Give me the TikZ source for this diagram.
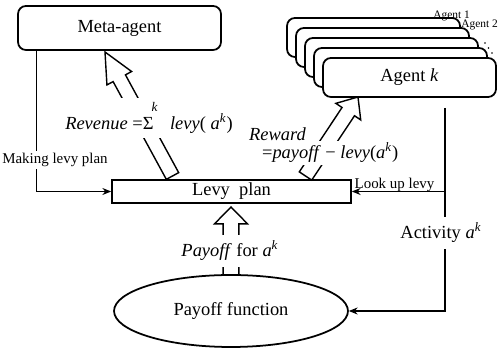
\documentclass[tikz,border=0pt]{standalone}
\usepackage{fontspec}
\setmainfont{Liberation Serif}
\usetikzlibrary{calc,arrows.meta,shapes.geometric}
\newcommand{\hollowarr}[5]{%
  \coordinate (hb) at ($(#2)!#5!(#1)$);
  \draw[hollowline] ($(#1)!#3!90:(#2)$) -- ($(hb)!#3!90:(#2)$) -- ($(hb)!#4!90:(#2)$) -- (#2)
     -- ($(hb)!#4!-90:(#2)$) -- ($(hb)!#3!-90:(#2)$) -- ($(#1)!#3!-90:(#2)$) -- cycle;}
\begin{document}
\begin{tikzpicture}[x=0.02cm,y=-0.02cm,font=\fontsize{10.5}{12}\selectfont,
  rbox/.style={draw,line width=1pt,rounded corners=4.5pt,fill=white,inner sep=0pt},
  sbox/.style={draw,line width=1pt,fill=white,inner sep=0pt},
  ell/.style={draw,line width=1pt,ellipse,inner sep=0pt,minimum width=4.68cm,minimum height=1.44cm},
  conn/.style={line width=0.7pt,-{Stealth[length=5pt,width=4pt]}},
  hollowline/.style={line width=0.8pt,line join=miter},
  lbl/.style={fill=white,inner xsep=1pt},
  small/.style={font=\fontsize{8.5}{10}\selectfont},
  tiny/.style={font=\fontsize{6.5}{7.5}\selectfont}]
\useasboundingbox (0,0) rectangle (500,350);

% boxes
\node[rbox,minimum width=4.06cm,minimum height=0.88cm] (meta) at (119.5,28) {Meta-agent};
\foreach \i in {0,...,3}
  \node[rbox,minimum width=3.46cm,minimum height=0.78cm] (ag\i) at ({373.5+9*\i},{37.5+10*\i}) {};
\node[rbox,minimum width=3.46cm,minimum height=0.78cm] (agk) at (409.5,77.5) {Agent \textit{k}};
\node[sbox,minimum width=4.78cm,minimum height=0.46cm] (levy) at (231.5,191.5) {Levy\ \ plan};
\node[ell] (pay) at (231,311) {Payoff function};

% agent labels
\node[tiny,anchor=base west,inner sep=0pt] (a1) at (433,19) {Agent 1};
\node[tiny,anchor=base west,inner sep=0pt] (a2) at (461,28) {Agent 2};
\fill (485,43) circle (0.55pt) (488.5,48) circle (0.55pt) (492,53) circle (0.55pt);

% connectors
\coordinate (mlp) at ($(meta.south west)+(19,0)$);
\draw[conn] (mlp) |- (levy.west);
\node[small,lbl,inner ysep=1.5pt] (mklbl) at (55,160) {Making levy plan};

\coordinate (vtop) at ($(agk.south)+(35.5,10)$);
\draw[conn] (vtop) -- (vtop |- pay.east) -- (pay.east);
\draw[conn] (vtop |- levy.east) -- (levy.east);
\node[small,anchor=base] (lulbl) at (394.5,189) {Look up levy};
\node[lbl,inner ysep=3.5pt] (actlbl) at (441,233) {Activity \textit{a}\textsuperscript{\textit{k}}};

% hollow arrows
\coordinate (rvT) at (172.5,176); \coordinate (rvH) at (105,52);
\hollowarr{rvT}{rvH}{4pt}{8pt}{17pt}
\node[lbl,inner ysep=2.8pt] (rev) at (149,118) {\textit{Revenue} =Σ\rlap{\raisebox{0.95em}{\fontsize{7.5}{7.5}\selectfont\itshape\kern-0.15em k}}\hspace{0.9em}\textit{levy}( \textit{a}\textsuperscript{\textit{k}})};

\coordinate (rwT) at (305.5,176); \coordinate (rwH) at (358,97);
\hollowarr{rwT}{rwH}{4.25pt}{8.5pt}{10pt}
\node[lbl,anchor=west,inner ysep=1pt] (rw2) at (260,153) {=\textit{payoff} − \textit{levy}(\textit{a}\textsuperscript{\textit{k}})};
\node[anchor=west,inner sep=1pt] (rw1) at (247,134) {\textit{Reward}};

\coordinate (pfT) at (231,275); \coordinate (pfH) at (231,207);
\hollowarr{pfT}{pfH}{4.5pt}{9.4pt}{9.6pt}
\node[lbl,inner ysep=3.5pt] (pflbl) at (230,251) {\textit{Payoff} for \textit{a}\textsuperscript{\textit{k}}};
\end{tikzpicture}
\end{document}
